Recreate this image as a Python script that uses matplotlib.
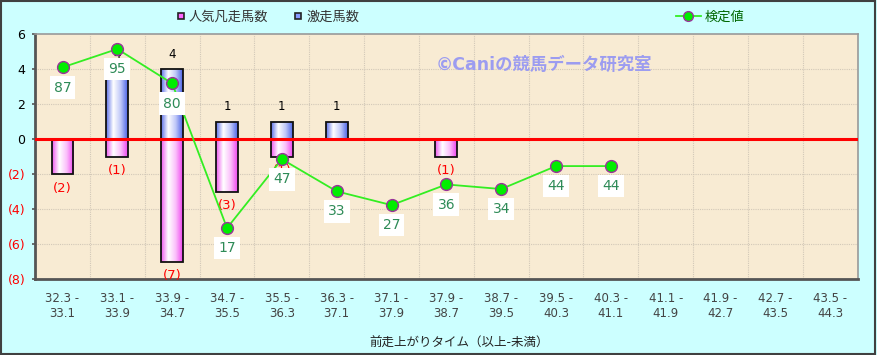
import matplotlib
matplotlib.use("Agg")
import matplotlib.pyplot as plt
import numpy as np
from matplotlib.colors import LinearSegmentedColormap
from matplotlib.lines import Line2D
from matplotlib.patches import Rectangle

plt.rcParams['font.family'] = ['DejaVu Sans', 'Noto Sans CJK JP']

# data
bin_lo = ["32.3", "33.1", "33.9", "34.7", "35.5", "36.3", "37.1", "37.9",
          "38.7", "39.5", "40.3", "41.1", "41.9", "42.7", "43.5"]
bin_hi = ["33.1", "33.9", "34.7", "35.5", "36.3", "37.1", "37.9", "38.7",
          "39.5", "40.3", "41.1", "41.9", "42.7", "43.5", "44.3"]
gekisou = [0, 4, 4, 1, 1, 1, 0, 0, 0, 0, 0, 0, 0, 0, 0]      # 激走馬数
bonsou = [2, 1, 7, 3, 1, 0, 0, 1, 0, 0, 0, 0, 0, 0, 0]       # 人気凡走馬数
kentei = [87, 95, 80, 17, 47, 33, 27, 36, 34, 44, 44]         # 検定値

labels = [f"{a} -\n{b}" for a, b in zip(bin_lo, bin_hi)]
x = np.arange(len(labels))

fig = plt.figure(figsize=(8.77, 3.55), dpi=100, facecolor='#ccffff')
ax = fig.add_axes([0.040, 0.214, 0.938, 0.690])
ax.set_facecolor('#f8ebd3')

# grid
for yv in [-6, -4, -2, 2, 4]:
    ax.axhline(yv, color='#d2c8b8', lw=0.8, ls=(0, (1, 1)), zorder=0.5)
for xv in x[:-1] + 0.5:
    ax.axvline(xv, color='#d2c8b8', lw=0.8, ls=(0, (1, 1)), zorder=0.5)

blue_cmap = LinearSegmentedColormap.from_list(
    'b', ['#5a6ee8', '#ffffff', '#c0c8f8', '#4a62e6'], N=256)
pink_cmap = LinearSegmentedColormap.from_list(
    'p', ['#ee55ee', '#ffffff', '#fbc0fb', '#ee44ee'], N=256)
grad = np.linspace(0, 1, 256).reshape(1, -1)


def gradient_bars(vals, cmap):
    bars = ax.bar(x, vals, width=0.4, facecolor='none', edgecolor='#111111',
                  lw=1.3, zorder=2.5)
    for b, v in zip(bars, vals):
        if v == 0:
            continue
        x0, y0 = b.get_x(), b.get_y()
        im = ax.imshow(grad, cmap=cmap, aspect='auto', zorder=2,
                       extent=(x0, x0 + b.get_width(), y0, y0 + b.get_height()))
        im.set_clip_path(b)
    return bars


neg = [-v for v in bonsou]
gradient_bars(gekisou, blue_cmap)
gradient_bars(neg, pink_cmap)
ax.set_xlim(-0.5, len(labels) - 0.5)
ax.set_ylim(-8, 6)

ax.axhline(0, color='#ff0000', lw=2.2, zorder=3)

for i, v in enumerate(gekisou):
    if v:
        ax.text(i, v + 0.85, str(v), ha='center', va='center', fontsize=8.5,
                color='black', zorder=4)
for i, v in enumerate(bonsou):
    if v:
        ax.text(i, -v - 0.8, f"({v})", ha='center', va='center', fontsize=9.5,
                color='#ff0000', zorder=4)

yt = list(range(-8, 7, 2))
ax.set_yticks(yt)
ax.set_yticklabels([f"({-v})" if v < 0 else str(v) for v in yt], fontsize=9)
for t, v in zip(ax.get_yticklabels(), yt):
    t.set_color('#ff0000' if v < 0 else 'black')
ax.set_xticks(x)
ax.set_xticklabels(labels, fontsize=8.5, color='#444444', linespacing=1.2)
ax.tick_params(axis='x', length=0, pad=9)
ax.tick_params(axis='y', length=2, width=1.2, color='#555555', pad=5)

for s in ['left', 'bottom']:
    ax.spines[s].set_color('#555555')
    ax.spines[s].set_linewidth(2)
for s in ['top', 'right']:
    ax.spines[s].set_color('#999999')
    ax.spines[s].set_linewidth(1.2)

ax.set_xlabel('前走上がりタイム（以上-未満）', fontsize=9, color='#222222')
ax.xaxis.set_label_coords(0.515, -0.235)

ax.text(0.487, 0.875, '©Caniの競馬データ研究室', transform=ax.transAxes,
        fontsize=12.5, color='#9c9cf0', fontweight='bold', ha='left',
        va='center', zorder=1)

# 検定値 on its own scale
ax2 = ax.twinx()
ax2.set_ylim(-5.2, 101.5)
ax2.set_yticks([])
for s in ax2.spines.values():
    s.set_visible(False)
xk = x[:len(kentei)]
ax2.plot(xk, kentei, color='#33ee22', lw=1.3, marker='o', markersize=8.5,
         markerfacecolor='#00ee00', markeredgecolor='#993399',
         markeredgewidth=1.0, zorder=5)
for xi, v in zip(xk, kentei):
    ax2.annotate(str(v), (xi, v), xytext=(0, -14.5), textcoords='offset points',
                 ha='center', va='center', fontsize=10, color='#2e8b57',
                 zorder=6,
                 bbox=dict(boxstyle='square,pad=0.3', fc='white', ec='none'))

# legends
h_pink = Line2D([], [], ls='none', marker='s', markersize=5,
                markerfacecolor='#ff66ff', markeredgecolor='#222222',
                markeredgewidth=1.2)
h_blue = Line2D([], [], ls='none', marker='s', markersize=5,
                markerfacecolor='#8899ff', markeredgecolor='#222222',
                markeredgewidth=1.2)
leg1 = fig.legend([h_pink, h_blue], ['人気凡走馬数', '激走馬数'], ncol=2,
                  loc='center left', bbox_to_anchor=(0.188, 0.952),
                  frameon=False, fontsize=9.5, handlelength=0.6,
                  handletextpad=0.3, columnspacing=2.0)
for t in leg1.get_texts():
    t.set_color('#333333')
h_line = Line2D([], [], color='#33ee22', lw=1.3, marker='o', markersize=7,
                markerfacecolor='#00ee00', markeredgecolor='#993399')
leg2 = fig.legend([h_line], ['検定値'], loc='center left',
                  bbox_to_anchor=(0.757, 0.952), frameon=False, fontsize=9.5,
                  handlelength=1.9, handletextpad=0.3)
for t in leg2.get_texts():
    t.set_color('#006600')

fig.patches.append(Rectangle((0.001, 0.002), 0.997, 0.996,
                             transform=fig.transFigure, fill=False,
                             edgecolor='#404040', lw=1.5))

fig.savefig('out.png', dpi=100, facecolor=fig.get_facecolor())
